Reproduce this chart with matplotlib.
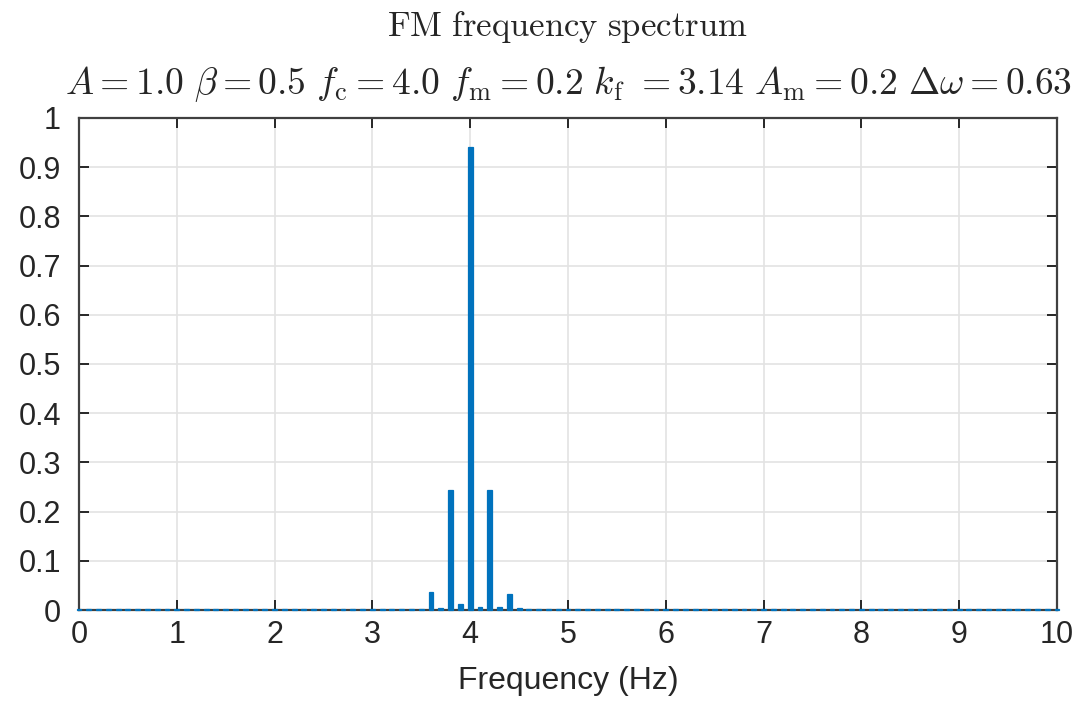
import numpy as np
import matplotlib
matplotlib.use('Agg')
import matplotlib.pyplot as plt

plt.rcParams['mathtext.fontset'] = 'cm'
plt.rcParams['font.family'] = ['Liberation Sans', 'DejaVu Sans']

# Spectrum sampled every 0.1 Hz from 0 to 10 Hz
freqs = np.round(np.arange(0, 101) * 0.1, 1)
amps = [
    0.003, 0.003, 0.003, 0.003, 0.003, 0.003, 0.003, 0.003, 0.003, 0.003,  # 0.0-0.9
    0.003, 0.003, 0.003, 0.003, 0.003, 0.003, 0.003, 0.003, 0.003, 0.003,  # 1.0-1.9
    0.003, 0.003, 0.003, 0.003, 0.003, 0.003, 0.003, 0.003, 0.003, 0.003,  # 2.0-2.9
    0.003, 0.003, 0.003, 0.003, 0.003, 0.003, 0.037, 0.004, 0.244, 0.012,  # 3.0-3.9
    0.941, 0.007, 0.244, 0.007, 0.033, 0.004, 0.003, 0.003, 0.003, 0.003,  # 4.0-4.9
    0.003, 0.003, 0.003, 0.003, 0.003, 0.003, 0.003, 0.003, 0.003, 0.003,  # 5.0-5.9
    0.003, 0.003, 0.003, 0.003, 0.003, 0.003, 0.003, 0.003, 0.003, 0.003,  # 6.0-6.9
    0.003, 0.003, 0.003, 0.003, 0.003, 0.003, 0.003, 0.003, 0.003, 0.003,  # 7.0-7.9
    0.003, 0.003, 0.003, 0.003, 0.003, 0.003, 0.003, 0.003, 0.003, 0.003,  # 8.0-8.9
    0.003, 0.003, 0.003, 0.003, 0.003, 0.003, 0.003, 0.003, 0.003, 0.003,  # 9.0-9.9
    0.003,                                                                  # 10.0
]

x_ticks = [0, 1, 2, 3, 4, 5, 6, 7, 8, 9, 10]
y_ticks = [0, 0.1, 0.2, 0.3, 0.4, 0.5, 0.6, 0.7, 0.8, 0.9, 1]
y_labels = ['0', '0.1', '0.2', '0.3', '0.4', '0.5', '0.6', '0.7', '0.8', '0.9', '1']

title = r'$\mathrm{FM\ frequency\ spectrum}$'
subtitle = (r'$A = 1.0\ \beta = 0.5\ f_{\mathrm{c}} = 4.0\ f_{\mathrm{m}} = 0.2\ '
            r'k_{\mathrm{f}}\ = 3.14\ A_{\mathrm{m}} = 0.2\ \Delta\omega = 0.63$')

fig = plt.figure(figsize=(10.76, 7.01), dpi=100)
ax = fig.add_axes([0.0734, 0.1298, 0.9089, 0.7019])

ax.bar(freqs, amps, width=0.05, color='#0072BD', edgecolor='#0072BD',
       linewidth=0.9, zorder=3, clip_on=False)

ax.set_xlim(0, 10)
ax.set_ylim(0, 1)
ax.set_xticks(x_ticks)
ax.set_yticks(y_ticks)
ax.set_yticklabels(y_labels)
ax.grid(True, color='#e3e3e3', linewidth=1.2, zorder=0)
ax.set_axisbelow(True)

ax.tick_params(direction='in', length=7, width=1.4, colors='#262626',
               labelsize=22, top=True, right=True)
ax.tick_params(axis='x', pad=7)
ax.tick_params(axis='y', pad=13)
for s in ax.spines.values():
    s.set_color('#404040')
    s.set_linewidth(1.6)

ax.set_xlabel('Frequency (Hz)', fontsize=23, color='#262626', labelpad=12)

fig.text(0.527, 1 - 27 / 701, title, ha='center', va='center', fontsize=25, color='#262626')
fig.text(0.528, 1 - 84 / 701, subtitle, ha='center', va='center', fontsize=27, color='#262626')

fig.savefig('out.png', dpi=100)
